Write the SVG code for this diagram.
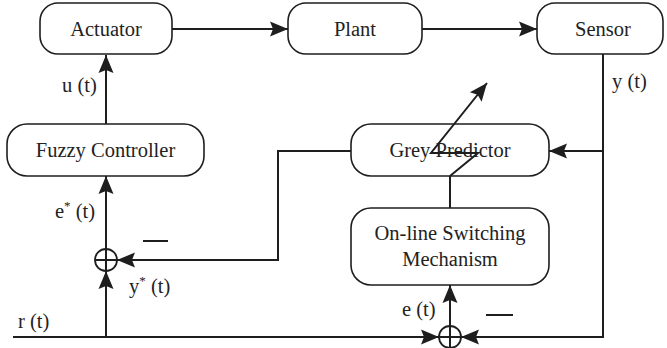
<svg xmlns="http://www.w3.org/2000/svg" width="667" height="348" viewBox="0 0 667 348">
  <style>
    .box { fill: #fff; stroke: #1e1e1e; stroke-width: 1.6; }
    .lbl { font-family: "Liberation Serif", "Times New Roman", serif; font-size: 20.5px; fill: #222; }
    .mid { text-anchor: middle; }
    .wire { fill: none; stroke: #1e1e1e; stroke-width: 2; }
    .arr { marker-end: url(#head); }
    .sum { fill: #fff; stroke: #1e1e1e; stroke-width: 1.8; }
  </style>
  <defs>
    <marker id="head" markerUnits="userSpaceOnUse" markerWidth="20" markerHeight="18" viewBox="-19 -9 20 18" refX="0" refY="0" orient="auto">
      <path d="M0,0 L-18,-7.5 L-15,0 L-18,7.5 Z" fill="#1e1e1e"/>
    </marker>
  </defs>

  <!-- connectors -->
  <g id="connectors">
    <path class="wire arr" d="M172,29 H288"/>
    <path class="wire arr" d="M422,29 H537"/>
    <path class="wire arr" d="M106,124 V55"/>
    <path class="wire arr" d="M106,249 V176"/>
    <path class="wire arr" d="M106,337 V271"/>
    <path class="wire arr" d="M351,151 H278 V260 H117"/>
    <path class="wire arr" d="M603,54 V151 H549"/>
    <path class="wire arr" d="M603,151 V337 H461"/>
    <path class="wire arr" d="M13,337 H439"/>
    <path class="wire arr" d="M450,326 V285"/>
    <path class="wire" d="M450,208 V176"/>
    <!-- minus signs -->
    <line class="wire" x1="143" y1="241" x2="168" y2="241"/>
    <line class="wire" x1="486" y1="315" x2="513" y2="315"/>
  </g>

  <g id="sum1">
    <circle class="sum" cx="106" cy="260" r="11"/>
    <path class="wire" d="M95,260 H117 M106,249 V271"/>
  </g>
  <g id="sum2">
    <circle class="sum" cx="450" cy="337" r="11"/>
    <path class="wire" d="M439,337 H461 M450,326 V348"/>
  </g>

  <g id="actuator">
    <rect class="box" x="40" y="3" width="132" height="51" rx="18"/>
    <text class="lbl mid" x="106" y="36">Actuator</text>
  </g>
  <g id="plant">
    <rect class="box" x="288" y="3" width="134" height="51" rx="18"/>
    <text class="lbl mid" x="355" y="36">Plant</text>
  </g>
  <g id="sensor">
    <rect class="box" x="537" y="3" width="126" height="51" rx="18"/>
    <text class="lbl mid" x="603" y="36">Sensor</text>
  </g>
  <g id="fuzzy-controller">
    <rect class="box" x="7" y="124" width="197" height="52" rx="20"/>
    <text class="lbl mid" x="105.5" y="157">Fuzzy Controller</text>
  </g>
  <g id="grey-predictor">
    <rect class="box" x="351" y="124" width="198" height="52" rx="20"/>
    <text class="lbl mid" x="450" y="157">Grey Predictor</text>
  </g>
  <g id="switching">
    <rect class="box" x="351" y="208" width="198" height="77" rx="20"/>
    <text class="lbl mid" x="450" y="240">On-line Switching</text>
    <text class="lbl mid" x="450" y="266">Mechanism</text>
  </g>

  <!-- switch symbol drawn over the predictor -->
  <g id="switch">
    <path class="wire arr" d="M450,176 L478,153 H431 L487,83"/>
  </g>

  <!-- signal labels -->
  <g id="labels">
    <text class="lbl" x="62" y="92">u (t)</text>
    <text class="lbl" x="612" y="88">y (t)</text>
    <text class="lbl" x="55" y="218">e<tspan font-size="13" dy="-8">*</tspan><tspan dy="8"> (t)</tspan></text>
    <text class="lbl" x="129" y="293">y<tspan font-size="13" dy="-8">*</tspan><tspan dy="8"> (t)</tspan></text>
    <text class="lbl" x="18" y="328">r (t)</text>
    <text class="lbl" x="402" y="316">e (t)</text>
  </g>
</svg>
